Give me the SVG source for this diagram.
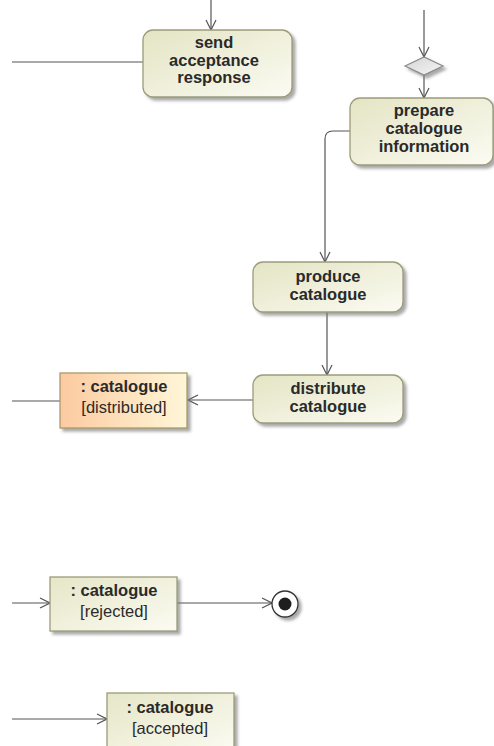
<svg xmlns="http://www.w3.org/2000/svg" width="494" height="746" viewBox="0 0 494 746">
  <defs>
    <linearGradient id="actFill" x1="0" y1="0" x2="1" y2="1">
      <stop offset="0" stop-color="#e4e4c4"/>
      <stop offset="1" stop-color="#fbfbf3"/>
    </linearGradient>
    <linearGradient id="objFill" x1="0" y1="0" x2="1" y2="1">
      <stop offset="0" stop-color="#e6e6c8"/>
      <stop offset="1" stop-color="#fbfbf2"/>
    </linearGradient>
    <linearGradient id="objHot" x1="0" y1="0" x2="1" y2="0">
      <stop offset="0" stop-color="#fccaa0"/>
      <stop offset="1" stop-color="#fff7d8"/>
    </linearGradient>
    <linearGradient id="decFill" x1="0" y1="0" x2="1" y2="1">
      <stop offset="0" stop-color="#d4d4d4"/>
      <stop offset="1" stop-color="#f6f6f6"/>
    </linearGradient>
    <filter id="shadow" x="-10%" y="-10%" width="130%" height="140%">
      <feDropShadow dx="3" dy="3" stdDeviation="1.4" flood-color="#7a7a7a" flood-opacity="0.65"/>
    </filter>
    <marker id="open" viewBox="0 0 12 12" refX="11" refY="6" markerWidth="12" markerHeight="12" markerUnits="userSpaceOnUse" orient="auto">
      <path d="M1,1 L11,6 L1,11" fill="none" stroke="#555" stroke-width="1.2"/>
    </marker>
  </defs>
  <style>
    .act { fill: url(#actFill); stroke: #9c9c7a; stroke-width: 1.3; filter: url(#shadow); }
    .obj { fill: url(#objFill); stroke: #9c9c7a; stroke-width: 1.3; filter: url(#shadow); }
    .hot { fill: url(#objHot); stroke: #a89a6c; stroke-width: 1.3; filter: url(#shadow); }
    .edge { fill: none; stroke: #555; stroke-width: 1.2; }
    .arr { marker-end: url(#open); }
    text { font-family: "Liberation Sans", Arial, sans-serif; font-size: 16.5px; fill: #2a2a2a; text-anchor: middle; }
    .b { font-weight: bold; }
  </style>

  <!-- connectors -->
  <g id="edges">
    <path class="edge arr" d="M211,0 V30"/>
    <path class="edge" d="M12,62 H143"/>
    <path class="edge arr" d="M424,10 V57"/>
    <path class="edge arr" d="M424,75 V98"/>
    <path class="edge arr" d="M350,131 H333 Q325,131 325,139 V262"/>
    <path class="edge arr" d="M327,312 V375"/>
    <path class="edge arr" d="M253,400 H188"/>
    <path class="edge" d="M12,401 H60"/>
    <path class="edge arr" d="M12,603 H50"/>
    <path class="edge arr" d="M177,603 H272"/>
    <path class="edge arr" d="M12,719 H107"/>
  </g>

  <!-- action: send acceptance response -->
  <g id="sendAcceptance">
    <rect class="act" x="143" y="30" width="149" height="67" rx="10"/>
    <text class="b" x="214" y="48">send</text>
    <text class="b" x="214" y="65.5">acceptance</text>
    <text class="b" x="214" y="83">response</text>
  </g>

  <!-- decision -->
  <g id="decision">
    <path d="M405,66 L424,57 L443,66 L424,75 Z" fill="url(#decFill)" stroke="#8a8a8a" stroke-width="1.2" filter="url(#shadow)"/>
  </g>

  <!-- action: prepare catalogue information -->
  <g id="prepareInfo">
    <rect class="act" x="350" y="98" width="143" height="67" rx="10"/>
    <text class="b" x="424" y="116">prepare</text>
    <text class="b" x="424" y="134">catalogue</text>
    <text class="b" x="424" y="152">information</text>
  </g>

  <!-- action: produce catalogue -->
  <g id="produceCatalogue">
    <rect class="act" x="253" y="262" width="150" height="50" rx="10"/>
    <text class="b" x="328" y="282">produce</text>
    <text class="b" x="328" y="299.5">catalogue</text>
  </g>

  <!-- action: distribute catalogue -->
  <g id="distributeCatalogue">
    <rect class="act" x="253" y="375" width="150" height="48" rx="10"/>
    <text class="b" x="328" y="394">distribute</text>
    <text class="b" x="328" y="412">catalogue</text>
  </g>

  <!-- object: catalogue [distributed] -->
  <g id="catDistributed">
    <rect class="hot" x="60" y="373" width="127" height="55"/>
    <text class="b" x="124" y="392">: catalogue</text>
    <text x="124" y="413">[distributed]</text>
  </g>

  <!-- object: catalogue [rejected] -->
  <g id="catRejected">
    <rect class="obj" x="50" y="577" width="127" height="54"/>
    <text class="b" x="114" y="596">: catalogue</text>
    <text x="114" y="617">[rejected]</text>
  </g>

  <!-- activity final -->
  <g id="final">
    <circle cx="285" cy="604" r="13" fill="#fff" stroke="#333" stroke-width="1.3" filter="url(#shadow)"/>
    <circle cx="285" cy="604" r="6.5" fill="#1e1e1e"/>
  </g>

  <!-- object: catalogue [accepted] -->
  <g id="catAccepted">
    <rect class="obj" x="107" y="693" width="127" height="60"/>
    <text class="b" x="170" y="713">: catalogue</text>
    <text x="170" y="734">[accepted]</text>
  </g>
</svg>
